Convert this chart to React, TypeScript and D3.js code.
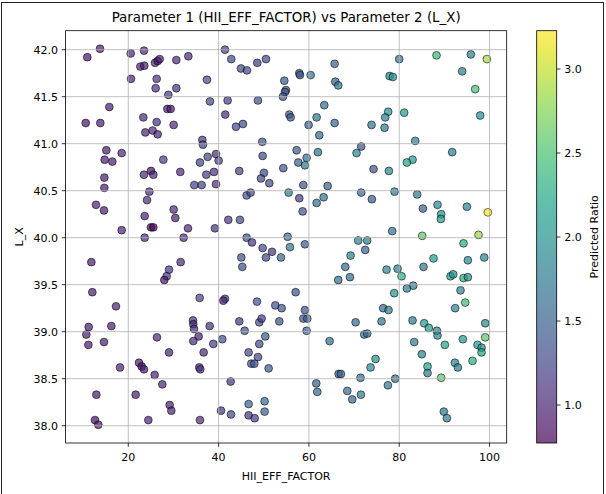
import React from "react";
import * as d3 from "d3";

// HII_EFF_FACTOR (x), L_X (y), Predicted Ratio (colour)
const hiiEff: number[] = [
  13.74, 10.93, 20.53, 23.48, 22.67, 23.55, 25.92, 26.51, 26.95, 30.64, 33.3, 20.6, 26.29, 26.06, 30.64, 37.43, 28.87, 38.09, 15.81, 28.65, 29.38, 23.33, 10.57, 13.81, 26.29, 30.05, 23.78, 25.4, 26.51, 36.4, 36.54, 15.14, 18.54, 14.77, 16.47, 27.76, 35.88, 37.58,
  41.41, 42.81, 44.95, 46.28, 48.57, 50.49, 54.55, 57.87, 58.02, 60.38, 65.69, 65.84, 66.5, 54.92, 54.7, 54.25, 42.0, 48.72, 41.48, 43.85, 45.4, 55.65, 55.95, 63.4, 61.71, 59.93, 65.69, 62.3, 49.68, 49.75, 57.28, 59.49, 57.65, 59.12, 62.0, 54.33, 39.42, 40.01,
  80.0, 88.26, 95.86, 99.41, 93.94, 77.86, 78.59, 96.82, 77.56, 76.9, 81.1, 97.93, 73.87, 76.75, 83.54, 71.58, 70.55, 91.73, 82.95, 81.69, 74.31,
  14.7, 14.7, 23.48, 25.03, 25.55, 31.52, 37.28, 34.62, 36.25, 24.66, 24.15, 12.85, 14.62, 30.05, 30.42, 23.63, 25.03, 25.55, 18.54, 33.22, 23.63, 32.26, 11.82, 31.6, 29.02, 28.5, 27.98, 12.04, 35.8, 17.28,
  38.98, 39.42, 44.58, 50.05, 49.38, 51.23, 58.76, 64.14, 55.51, 57.87, 46.21, 47.09, 63.26, 61.71, 58.61, 42.15, 44.73, 39.2, 46.21, 47.39, 55.29, 55.8, 59.12, 49.75, 51.82, 50.49, 53.81, 45.03, 45.25, 69.23, 68.05, 69.09, 66.5, 41.41, 41.04, 48.5, 57.06, 52.56, 53.96,
  77.71, 71.58, 73.94, 78.96, 83.98, 85.24, 88.48, 89.29, 89.22, 94.98, 99.63, 78.45, 85.09, 97.56, 94.24, 70.92, 72.91, 72.47, 87.6, 95.2, 98.82, 77.19, 79.63, 80.51, 85.38, 91.36, 91.95, 94.24, 95.2, 83.1, 81.69, 78.89, 93.57, 94.61, 92.39, 76.45,
  11.23, 10.71, 11.16, 16.25, 14.62, 26.36, 29.02, 34.33, 34.4, 34.55, 35.58, 34.4, 38.02, 36.69, 18.17, 22.37, 22.96, 23.48, 25.84, 27.54, 35.73, 35.95, 12.93, 21.64, 29.16, 29.53, 12.63, 13.37, 24.44, 35.88,
  59.12, 58.76, 59.64, 44.58, 49.01, 49.53, 53.44, 45.77, 59.49, 70.34, 40.82, 38.83, 50.34, 49.01, 46.65, 48.72, 47.24, 47.91, 51.08, 64.58, 42.67, 66.58, 67.09, 61.63, 61.85, 68.5, 69.6, 46.65, 50.19, 50.19, 46.65, 47.98, 40.53, 42.74,
  77.63, 76.08, 72.25, 72.91, 82.95, 85.53, 86.56, 88.34, 88.48, 99.04, 83.32, 90.11, 94.09, 99.04, 97.34, 98.22, 98.22, 96.23, 74.76, 73.65, 85.01, 86.27, 86.27, 92.32, 92.98, 89.29, 71.43, 71.51, 77.49, 79.11, 89.88, 90.55,
];

const lX: number[] = [
  42.01, 41.92, 41.96, 41.99, 41.82, 41.83, 41.86, 41.88, 41.9, 41.89, 41.93, 41.69, 41.69, 41.59, 41.59, 41.68, 41.52, 41.45, 41.39, 41.37, 41.37, 41.28, 41.22, 41.22, 41.23, 41.2, 41.12, 41.14, 41.1, 41.04, 40.99, 40.93, 40.9, 40.83, 40.81, 40.83, 40.8, 40.86,
  42.0, 41.9, 41.8, 41.78, 41.86, 41.9, 41.67, 41.75, 41.73, 41.73, 41.85, 41.66, 41.62, 41.57, 41.55, 41.5, 41.46, 41.46, 41.31, 41.18, 41.21, 41.31, 41.28, 41.41, 41.28, 41.2, 41.22, 41.09, 41.02, 40.87, 40.93, 40.85, 40.8, 40.77, 40.91, 40.74, 40.89, 40.82,
  41.9, 41.94, 41.95, 41.9, 41.77, 41.72, 41.71, 41.58, 41.34, 41.28, 41.33, 41.3, 41.2, 41.17, 41.03, 40.97, 40.9, 40.91, 40.83, 40.8, 40.73,
  40.64, 40.53, 40.67, 40.71, 40.67, 40.7, 40.67, 40.56, 40.56, 40.49, 40.4, 40.35, 40.29, 40.3, 40.21, 40.23, 40.11, 40.11, 40.08, 40.1, 40.0, 40.0, 39.74, 39.74, 39.66, 39.59, 39.55, 39.42, 39.36, 39.27,
  40.7, 40.57, 40.71, 40.69, 40.63, 40.58, 40.56, 40.55, 40.48, 40.42, 40.45, 40.48, 40.43, 40.37, 40.28, 40.19, 40.19, 40.1, 40.0, 39.95, 40.01, 39.9, 39.93, 39.89, 39.85, 39.79, 39.79, 39.79, 39.69, 39.81, 39.69, 39.58, 39.55, 39.35, 39.33, 39.32, 39.42, 39.28, 39.25,
  40.71, 40.48, 40.41, 40.49, 40.46, 40.31, 40.35, 40.25, 40.2, 40.33, 40.27, 40.07, 40.02, 40.03, 39.94, 39.97, 39.97, 39.87, 39.78, 39.76, 39.79, 39.66, 39.67, 39.59, 39.69, 39.59, 39.61, 39.57, 39.58, 39.49, 39.46, 39.41, 39.44, 39.31, 39.25, 39.25,
  39.05, 38.97, 38.86, 39.06, 38.89, 38.94, 38.78, 39.12, 39.08, 39.03, 38.95, 38.9, 39.06, 38.78, 38.62, 38.67, 38.63, 38.6, 38.54, 38.44, 38.62, 38.6, 38.33, 38.33, 38.22, 38.16, 38.06, 38.01, 38.06, 38.06,
  39.23, 39.14, 39.14, 39.11, 39.1, 39.14, 39.11, 39.01, 39.01, 39.1, 38.92, 38.87, 38.95, 38.87, 38.78, 38.73, 38.66, 38.66, 38.61, 38.9, 38.47, 38.55, 38.55, 38.45, 38.36, 38.37, 38.28, 38.23, 38.26, 38.15, 38.11, 38.08, 38.16, 38.12,
  39.23, 39.11, 38.97, 38.98, 39.12, 39.09, 39.04, 39.01, 38.96, 39.09, 38.89, 38.86, 38.92, 38.94, 38.86, 38.83, 38.78, 38.69, 38.71, 38.62, 38.76, 38.63, 38.56, 38.67, 38.62, 38.51, 38.51, 38.33, 38.43, 38.5, 38.15, 38.08,
];

const predictedRatio: number[] = [
  0.95, 0.9, 1.0, 1.05, 1.0, 0.95, 1.05, 0.9, 1.0, 1.05, 1.05, 1.0, 1.1, 1.1, 1.15, 1.3, 1.15, 1.3, 0.95, 1.0, 0.9, 1.05, 0.9, 0.95, 1.1, 1.05, 1.0, 1.05, 1.0, 1.2, 1.25, 0.95, 1.0, 0.95, 0.95, 1.2, 1.25, 1.3,
  1.2, 1.3, 1.3, 1.3, 1.15, 1.3, 1.45, 1.35, 1.4, 1.7, 1.5, 1.5, 1.75, 1.35, 1.4, 1.4, 1.2, 1.35, 1.05, 1.3, 1.3, 1.4, 1.4, 1.6, 1.7, 1.5, 1.55, 1.6, 1.4, 1.3, 1.45, 1.6, 1.5, 1.75, 1.7, 1.4, 1.1, 1.2,
  1.7, 2.4, 1.8, 2.9, 1.8, 1.9, 2.0, 2.5, 2.0, 1.8, 2.1, 2.0, 1.7, 1.75, 1.8, 1.4, 1.9, 1.8, 2.1, 2.2, 1.4,
  0.95, 0.95, 1.05, 0.9, 1.05, 1.05, 1.2, 1.25, 1.25, 1.05, 1.05, 1.0, 0.95, 1.05, 1.0, 1.0, 0.85, 0.85, 1.0, 1.05, 1.05, 1.05, 0.95, 1.05, 1.15, 1.2, 0.9, 0.95, 1.25, 1.0,
  1.1, 1.1, 1.25, 1.3, 1.3, 1.3, 1.4, 1.55, 1.75, 1.2, 1.35, 1.3, 1.7, 1.65, 1.4, 1.15, 1.3, 1.1, 1.35, 1.15, 1.6, 1.75, 1.45, 1.3, 1.15, 1.3, 1.6, 1.35, 1.35, 1.8, 1.6, 1.6, 1.65, 1.1, 1.05, 1.35, 1.4, 1.35, 1.4,
  1.9, 1.55, 1.45, 1.75, 1.75, 1.5, 1.9, 2.05, 2.1, 1.85, 3.2, 1.7, 2.6, 2.85, 2.25, 1.8, 1.75, 1.55, 2.15, 1.9, 1.85, 1.85, 1.8, 2.3, 1.7, 2.15, 2.0, 2.3, 2.0, 1.7, 1.8, 2.05, 1.8, 2.45, 1.85, 1.6,
  0.95, 0.95, 0.95, 0.95, 0.95, 1.05, 1.0, 1.15, 1.05, 1.1, 1.0, 1.05, 1.1, 1.05, 1.0, 0.95, 0.85, 0.95, 1.0, 1.0, 1.1, 1.1, 0.95, 0.95, 1.0, 1.0, 0.85, 0.95, 1.0, 1.05,
  1.4, 1.4, 1.45, 1.15, 1.3, 1.2, 1.35, 1.35, 1.45, 1.55, 1.35, 1.2, 1.45, 1.3, 1.3, 1.25, 1.35, 1.4, 1.45, 1.65, 1.1, 1.45, 1.5, 1.5, 1.6, 1.65, 1.55, 1.55, 1.6, 1.5, 1.15, 1.2, 1.15, 1.3,
  1.8, 1.7, 1.65, 1.55, 1.75, 2.1, 2.1, 1.9, 1.85, 1.85, 1.8, 2.2, 2.1, 2.6, 2.1, 2.0, 2.2, 2.3, 2.0, 1.9, 1.8, 2.2, 1.75, 1.85, 1.8, 2.6, 1.65, 1.75, 1.7, 1.65, 1.75, 1.8,
];

const xTicks = [20, 40, 60, 80, 100];
const yTicks = [38.0, 38.5, 39.0, 39.5, 40.0, 40.5, 41.0, 41.5, 42.0];
const cbTicks = [1.0, 1.5, 2.0, 2.5, 3.0];
const colorDomain: [number, number] = [0.774, 3.228];

const W = 606;
const H = 494;
const plot = { left: 65.6, right: 506.7, top: 30.7, bottom: 443 };
const cb = { left: 536.7, right: 556.7 };
const FONT = "DejaVu Sans, sans-serif";

export default function App() {
  const x = d3.scaleLinear().domain([6.12, 103.8]).range([plot.left, plot.right]);
  const y = d3.scaleLinear().domain([37.816, 42.202]).range([plot.bottom, plot.top]);
  const c = d3.scaleSequential(d3.interpolateViridis).domain(colorDomain);
  const cy = d3.scaleLinear().domain(colorDomain).range([plot.bottom, plot.top]);
  const stops = d3.range(0, 1.0001, 0.05);
  const pts = hiiEff.map((v, i) => ({ x: v, y: lX[i], r: predictedRatio[i] }));
  const tk = 3.8;

  return (
    <svg
      width={W}
      height={H}
      style={{ position: "absolute", left: 0, top: 0, display: "block", background: "#fff" }}
      fontFamily={FONT}
    >
      <defs>
        <linearGradient id="cbgrad" x1="0" y1="1" x2="0" y2="0">
          {stops.map((t) => (
            <stop key={t} offset={t} stopColor={d3.interpolateViridis(t)} />
          ))}
        </linearGradient>
        <clipPath id="plotclip">
          <rect x={plot.left} y={plot.top} width={plot.right - plot.left} height={plot.bottom - plot.top} />
        </clipPath>
      </defs>
      <rect x={0} y={0} width={W} height={H} fill="#fff" />
      <rect x={1.5} y={2.5} width={602} height={H + 10} fill="none" stroke="#222" strokeWidth={1} />

      <text x={(plot.left + plot.right) / 2} y={22} textAnchor="middle" fontSize={13.4} fill="#000">
        Parameter 1 (HII_EFF_FACTOR) vs Parameter 2 (L_X)
      </text>

      <g clipPath="url(#plotclip)">
        {pts.map((p, i) => (
          <circle
            key={i}
            cx={x(p.x)}
            cy={y(p.y)}
            r={3.9}
            fill={c(p.r)}
            fillOpacity={0.7}
            stroke="#000"
            strokeOpacity={0.7}
            strokeWidth={0.8}
          />
        ))}
      </g>

      {xTicks.map((t) => (
        <line key={"gx" + t} x1={x(t)} x2={x(t)} y1={plot.top} y2={plot.bottom} stroke="#b0b0b0" strokeWidth={0.8} />
      ))}
      {yTicks.map((t) => (
        <line key={"gy" + t} x1={plot.left} x2={plot.right} y1={y(t)} y2={y(t)} stroke="#b0b0b0" strokeWidth={0.8} />
      ))}

      <rect
        x={plot.left}
        y={plot.top}
        width={plot.right - plot.left}
        height={plot.bottom - plot.top}
        fill="none"
        stroke="#000"
        strokeWidth={0.8}
      />

      {xTicks.map((t) => (
        <g key={"tx" + t}>
          <line x1={x(t)} x2={x(t)} y1={plot.bottom} y2={plot.bottom + tk} stroke="#000" strokeWidth={0.8} />
          <text x={x(t)} y={plot.bottom + 18} textAnchor="middle" fontSize={11} fill="#000">
            {t}
          </text>
        </g>
      ))}
      {yTicks.map((t) => (
        <g key={"ty" + t}>
          <line x1={plot.left - tk} x2={plot.left} y1={y(t)} y2={y(t)} stroke="#000" strokeWidth={0.8} />
          <text x={plot.left - 7.5} y={y(t) + 4} textAnchor="end" fontSize={11} fill="#000">
            {t.toFixed(1)}
          </text>
        </g>
      ))}

      <text x={(plot.left + plot.right) / 2} y={480} textAnchor="middle" fontSize={11} fill="#000">
        HII_EFF_FACTOR
      </text>
      <text
        transform={`translate(${23},${(plot.top + plot.bottom) / 2}) rotate(-90)`}
        textAnchor="middle"
        fontSize={11}
        fill="#000"
      >
        L_X
      </text>

      <rect
        x={cb.left}
        y={plot.top}
        width={cb.right - cb.left}
        height={plot.bottom - plot.top}
        fill="url(#cbgrad)"
        fillOpacity={0.7}
      />
      <rect
        x={cb.left}
        y={plot.top}
        width={cb.right - cb.left}
        height={plot.bottom - plot.top}
        fill="none"
        stroke="#000"
        strokeWidth={0.8}
      />
      {cbTicks.map((t) => (
        <g key={"cb" + t}>
          <line x1={cb.right} x2={cb.right + tk} y1={cy(t)} y2={cy(t)} stroke="#000" strokeWidth={0.8} />
          <text x={cb.right + 7.5} y={cy(t) + 4} textAnchor="start" fontSize={11} fill="#000">
            {t.toFixed(1)}
          </text>
        </g>
      ))}
      <text
        transform={`translate(${598},${(plot.top + plot.bottom) / 2}) rotate(-90)`}
        textAnchor="middle"
        fontSize={11}
        fill="#000"
      >
        Predicted Ratio
      </text>
    </svg>
  );
}
